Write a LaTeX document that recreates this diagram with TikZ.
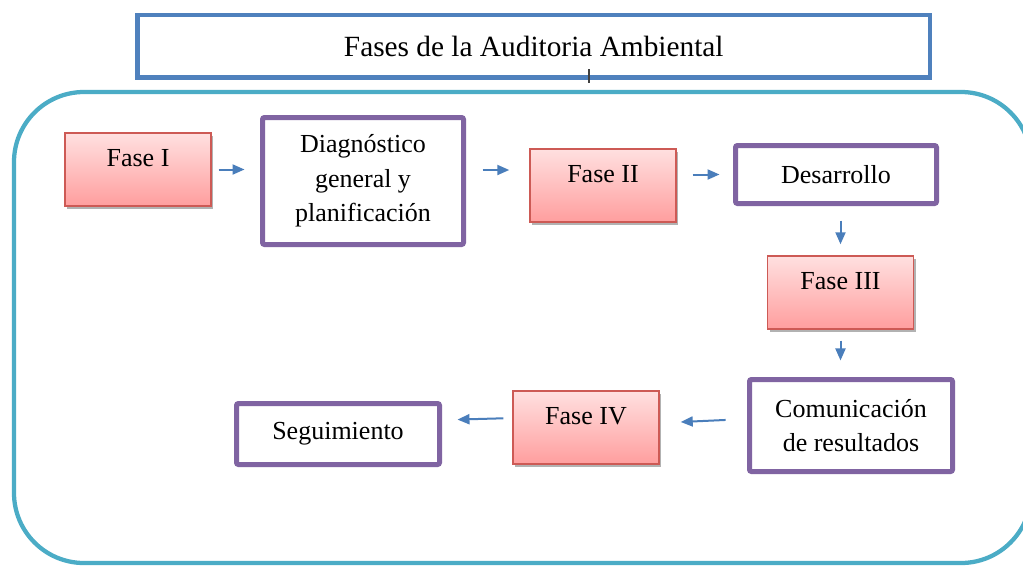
\documentclass[tikz,border=0pt]{standalone}
\usepackage{fontspec}
\setmainfont{Liberation Serif}
\usetikzlibrary{arrows.meta,shadows,calc}
\definecolor{pinkborder}{RGB}{205,90,85}
\definecolor{pinktop}{RGB}{255,224,224}
\definecolor{pinkbot}{RGB}{255,158,158}
\definecolor{purp}{RGB}{128,100,162}
\definecolor{titleblue}{RGB}{79,129,189}
\definecolor{frameteal}{RGB}{75,172,198}
\definecolor{arrblue}{RGB}{74,126,187}
\begin{document}
\begin{tikzpicture}[x=0.75pt,y=-0.75pt,
  pinkbox/.style={draw=pinkborder, line width=1.1pt, top color=pinktop, bottom color=pinkbot,
    minimum width=109.5pt, minimum height=54.75pt, inner xsep=2pt, inner ysep=0pt,
    text height=24.75pt, text depth=30pt, font=\fontsize{19.5}{24}\selectfont,
    drop shadow={shadow xshift=1.5pt, shadow yshift=-2pt, opacity=0.3, fill=black}},
  purpbox/.style={draw=purp, line width=3.75pt, fill=white, rounded corners=1.5pt,
    align=center, inner sep=2pt, font=\fontsize{19.5}{26}\selectfont},
  titlebox/.style={draw=titleblue, line width=3.4pt, minimum width=594.4pt, minimum height=46.9pt,
    inner sep=0pt, font=\fontsize{22}{26}\selectfont},
  frame/.style={draw=frameteal, line width=3.2pt, rounded corners=52.5pt},
  arr/.style={draw=arrblue, line width=1.5pt, -{Triangle[length=9pt,width=7.5pt]}},
]
\useasboundingbox (0,0) rectangle (1023,565);
\clip (0,0) rectangle (1023,565);
\fill[white] (0,0) rectangle (1023,565);

\draw[frame] (14,92) rectangle (1031,563);

\node[titlebox] (title) at (533.75,46.25) {Fases de la Auditoria Ambiental};
\draw[line width=1.5pt, black!75] (589,69) -- (589,83);

\node[pinkbox] (f1) at (138,169.5) {Fase I};
\node[pinkbox] (f2) at (603,185.5) {Fase II};
\node[pinkbox] (f3) at (840.5,292.5) {Fase III};
\node[pinkbox] (f4) at (586,427.5) {Fase IV};

\node[purpbox, minimum width=150.75pt, minimum height=95.25pt] (diag) at (363,181) {Diagnóstico\\general y\\planificación};
\node[purpbox, minimum width=150.75pt, minimum height=43.5pt] (des) at (836,174.5) {Desarrollo};
\node[purpbox, minimum width=152.25pt, minimum height=69pt] (com) at (851,425.5) {Comunicación\\de resultados};
\node[purpbox, minimum width=152.25pt, minimum height=45.75pt] (seg) at (338,434) {Seguimiento};

\draw[arr, shorten <=5.25pt, shorten >=11.6pt] (f1.east) -- (f1.east -| diag.west);
\draw[arr, shorten <=12.4pt, shorten >=15pt] ([yshift=8.25pt]diag.east) -- ([yshift=8.25pt]diag.east -| f2.west);
\draw[arr, shorten <=12pt, shorten >=10.1pt] (f2.east |- des.west) -- (des.west);
\draw[arr, shorten <=10.9pt, shorten >=8.25pt] (des.south -| f3.north) -- (f3.north);
\draw[arr, shorten <=8.25pt, shorten >=12.4pt] (f3.south) -- (f3.south |- com.north);
\draw[arr, shorten <=16.1pt, shorten >=15.75pt] ([yshift=4.9pt]com.west) -- ([yshift=3.4pt]f4.east);
\draw[arr, shorten <=6.75pt, shorten >=11.6pt] ([yshift=7.1pt]f4.west) -- ([yshift=10.5pt]seg.east);
\end{tikzpicture}
\end{document}
